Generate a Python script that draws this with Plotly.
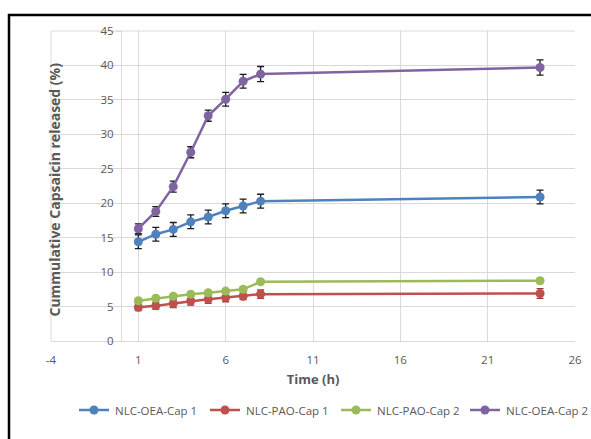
import plotly.graph_objects as go

# Sampling times (h)
time_h = [1, 2, 3, 4, 5, 6, 7, 8, 24]

# Cumulative capsaicin released (%) and standard deviations
oea_cap1 = [14.4, 15.5, 16.2, 17.3, 18.0, 18.9, 19.6, 20.3, 20.9]
oea_cap1_sd = [1.0, 1.0, 1.0, 1.0, 1.0, 1.0, 1.0, 1.0, 1.0]
pao_cap1 = [4.9, 5.1, 5.45, 5.8, 6.05, 6.3, 6.5, 6.8, 6.9]
pao_cap1_sd = [0.5, 0.5, 0.6, 0.6, 0.6, 0.6, 0.5, 0.6, 0.7]
pao_cap2 = [5.85, 6.2, 6.5, 6.8, 7.0, 7.25, 7.5, 8.6, 8.75]
pao_cap2_sd = [0.3, 0.3, 0.3, 0.3, 0.3, 0.3, 0.3, 0.3, 0.3]
oea_cap2 = [16.3, 18.8, 22.4, 27.4, 32.7, 35.1, 37.7, 38.75, 39.7]
oea_cap2_sd = [0.7, 0.7, 0.8, 0.8, 0.8, 1.0, 1.0, 1.1, 1.1]

series_names = ["NLC-OEA-Cap 1", "NLC-PAO-Cap 1", "NLC-PAO-Cap 2", "NLC-OEA-Cap 2"]
series_vals = [oea_cap1, pao_cap1, pao_cap2, oea_cap2]
series_sd = [oea_cap1_sd, pao_cap1_sd, pao_cap2_sd, oea_cap2_sd]
colors = ["#4F81BD", "#C0504D", "#9BBB59", "#8064A2"]
bar_colors = ["#1a1a1a", "#9a3a38", "#7d9a45", "#1a1a1a"]

x_ticks = [-4, 1, 6, 11, 16, 21, 26]
y_ticks = [0, 5, 10, 15, 20, 25, 30, 35, 40, 45]

W, H = 591, 439
ML, MR, MT, MB = 51, 16, 31, 98
PW, PH = W - ML - MR, H - MT - MB


def px(xp):
    return (xp - ML) / PW


def py(yp):
    return (H - MB - yp) / PH


fig = go.Figure()
for name, vals, sd, c, bc in zip(series_names, series_vals, series_sd, colors, bar_colors):
    fig.add_trace(go.Scatter(
        x=time_h, y=vals, name=name, mode="lines+markers",
        line=dict(color=c, width=2.5),
        marker=dict(color=c, size=9, symbol="circle"),
        error_y=dict(type="data", array=sd, visible=True, color=bc,
                     thickness=1.3, width=3.5),
        showlegend=False,
    ))

grid = "#D9D9D9"
label_col = "#595959"
font_fam = "Open Sans, Liberation Sans, sans-serif"

fig.update_layout(
    width=W, height=H,
    margin=dict(l=ML, r=MR, t=MT, b=MB, autoexpand=False),
    paper_bgcolor="white", plot_bgcolor="white",
    font=dict(family=font_fam, color=label_col),
    showlegend=False,
    xaxis=dict(range=[-4, 26], tickvals=x_ticks, ticktext=[str(v) for v in x_ticks],
               showgrid=True, gridcolor=grid, gridwidth=1,
               zeroline=False, showline=True, linecolor=grid, linewidth=1,
               tickfont=dict(size=11.5, color=label_col), ticks="", ticklabelstandoff=8,
               title=dict(text="<b>Time (h)</b>", font=dict(size=13, color=label_col),
                          standoff=9)),
    yaxis=dict(range=[0, 45], tickvals=y_ticks, showgrid=True, gridcolor=grid,
               gridwidth=1, zeroline=False, showline=True, linecolor=grid, linewidth=1,
               anchor="free", position=4 / 30,
               tickfont=dict(size=11.5, color=label_col), ticks="outside",
               ticklen=5, tickcolor=grid),
)

# y-axis title
fig.add_annotation(text="<b>Cummulative Capsaicin released (%)</b>",
                   xref="paper", yref="paper", x=px(42), y=py(190), textangle=-90,
                   showarrow=False, font=dict(size=14, color=label_col))

# plot area outline at the left and top edges
fig.add_shape(type="line", xref="paper", yref="paper", x0=0, x1=0, y0=0, y1=1,
              line=dict(color=grid, width=1), layer="below")
fig.add_shape(type="line", xref="paper", yref="paper", x0=0, x1=1, y0=1, y1=1,
              line=dict(color=grid, width=1), layer="below")

# legend row beneath the axis title
legend_text_x = [113, 244, 375, 504]
legend_y = 410
for name, c, tx in zip(series_names, colors, legend_text_x):
    fig.add_shape(type="line", xref="paper", yref="paper",
                  x0=px(tx - 34), x1=px(tx - 4), y0=py(legend_y), y1=py(legend_y),
                  line=dict(color=c, width=2.5))
    r = 4.5
    fig.add_shape(type="circle", xref="paper", yref="paper",
                  x0=px(tx - 19 - r), x1=px(tx - 19 + r),
                  y0=py(legend_y + r), y1=py(legend_y - r),
                  fillcolor=c, line=dict(color=c, width=0))
    fig.add_annotation(text=name, xref="paper", yref="paper", x=px(tx), y=py(legend_y),
                       xanchor="left", yanchor="middle", showarrow=False,
                       font=dict(size=11.5, color=label_col))

# black frame around the figure
fig.add_shape(type="rect", xref="paper", yref="paper",
              x0=px(9), x1=px(620), y0=py(470), y1=py(15),
              line=dict(color="black", width=2.5))

fig.write_html("out.html")
